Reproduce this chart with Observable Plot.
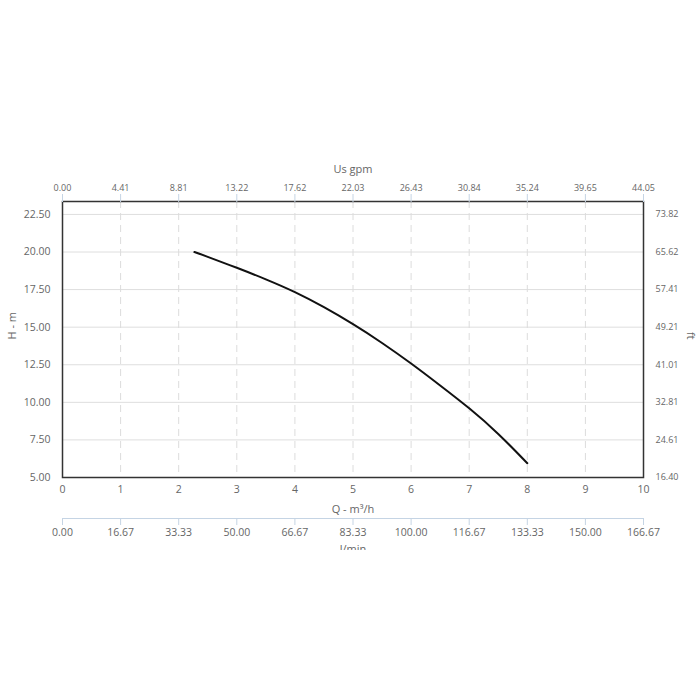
<!DOCTYPE html>
<html>
<head>
<meta charset="utf-8">
<script src="https://cdn.jsdelivr.net/npm/d3@7"></script>
<script src="https://cdn.jsdelivr.net/npm/@observablehq/plot@0.6"></script>
<style>
  html, body { margin: 0; padding: 0; background: #fff; }
  #chart { width: 700px; height: 700px; }
</style>
</head>
<body>
<div id="chart"></div>
<script>
// Pump curve: flow Q (m³/h) vs head H (m)
const flow = [2.27, 2.5, 3, 3.5, 4, 4.5, 5, 5.5, 6, 6.5, 7, 7.5, 8];
const head = [20.0, 19.68, 18.95, 18.18, 17.33, 16.33, 15.2, 13.95, 12.58, 11.12, 9.6, 7.9, 5.95];

// Axis ticks and labels
const xTicks = [0, 1, 2, 3, 4, 5, 6, 7, 8, 9, 10];
const gpmLabels = ["0.00", "4.41", "8.81", "13.22", "17.62", "22.03", "26.43", "30.84", "35.24", "39.65", "44.05"];
const lminLabels = ["0.00", "16.67", "33.33", "50.00", "66.67", "83.33", "100.00", "116.67", "133.33", "150.00", "166.67"];
const yTicks = [5, 7.5, 10, 12.5, 15, 17.5, 20, 22.5];
const ftLabels = ["16.40", "24.61", "32.81", "41.01", "49.21", "57.41", "65.62", "73.82"];

const data = flow.map((q, i) => ({q, h: head[i]}));
const textColor = "#666";
const blueTick = "#c5d4e4";

const chart = Plot.plot({
  width: 700,
  height: 550,
  marginLeft: 62,
  marginRight: 57,
  marginTop: 201,
  marginBottom: 73,
  style: {fontFamily: "'Open Sans', sans-serif", color: textColor, background: "#fff", overflow: "hidden"},
  x: {domain: [0, 10]},
  y: {domain: [5, 23.36]},
  marks: [
    Plot.ruleY(yTicks.slice(1), {stroke: "#dedede", strokeWidth: 1}),
    Plot.ruleX(xTicks.slice(1, -1), {stroke: "#dcdcdc", strokeWidth: 1, strokeDasharray: "7,5"}),
    Plot.line(data, {x: "q", y: "h", curve: "natural", stroke: "#111", strokeWidth: 2}),
    Plot.frame({stroke: "#333", strokeWidth: 1.5}),
    // left axis (m)
    Plot.axisY(yTicks, {anchor: "left", tickSize: 0, tickPadding: 12, tickFormat: d => d.toFixed(2), fontSize: 10.5, fill: textColor, label: null}),
    // right axis (ft)
    Plot.axisY(yTicks, {anchor: "right", tickSize: 0, tickPadding: 12, tickFormat: (d, i) => ftLabels[i], fontSize: 9, fill: textColor, label: null}),
    // bottom axis (m³/h)
    Plot.axisX(xTicks, {anchor: "bottom", tickSize: 0, tickPadding: 8, fontSize: 10.5, fill: textColor, label: null}),
    // top axis (US gpm)
    Plot.axisX(xTicks, {anchor: "top", tickSize: 8, stroke: blueTick, tickPadding: 3, tickFormat: (d, i) => gpmLabels[i], fontSize: 9, fill: textColor, label: null}),
    // secondary bottom axis (l/min)
    Plot.ruleY([5], {dy: 41, stroke: blueTick, strokeWidth: 1}),
    Plot.axisX(xTicks, {anchor: "bottom", dy: 41, tickSize: 7, stroke: blueTick, tickPadding: 3, tickFormat: (d, i) => lminLabels[i], fontSize: 10.5, fill: textColor, label: null}),
    // axis titles
    Plot.text(["Us gpm"], {frameAnchor: "top", dy: -36, fontSize: 11, fill: textColor}),
    Plot.text(["Q - m³/h"], {frameAnchor: "bottom", dy: 35, fontSize: 11, fill: textColor}),
    Plot.text(["l/min"], {frameAnchor: "bottom", dy: 75, fontSize: 11, fill: textColor}),
    Plot.text(["H - m"], {frameAnchor: "left", dx: -50, rotate: -90, fontSize: 11, fill: textColor}),
    Plot.text(["ft"], {frameAnchor: "right", dx: 47, rotate: 90, fontSize: 11, fill: textColor})
  ]
});
document.getElementById("chart").appendChild(chart);
</script>
</body>
</html>
